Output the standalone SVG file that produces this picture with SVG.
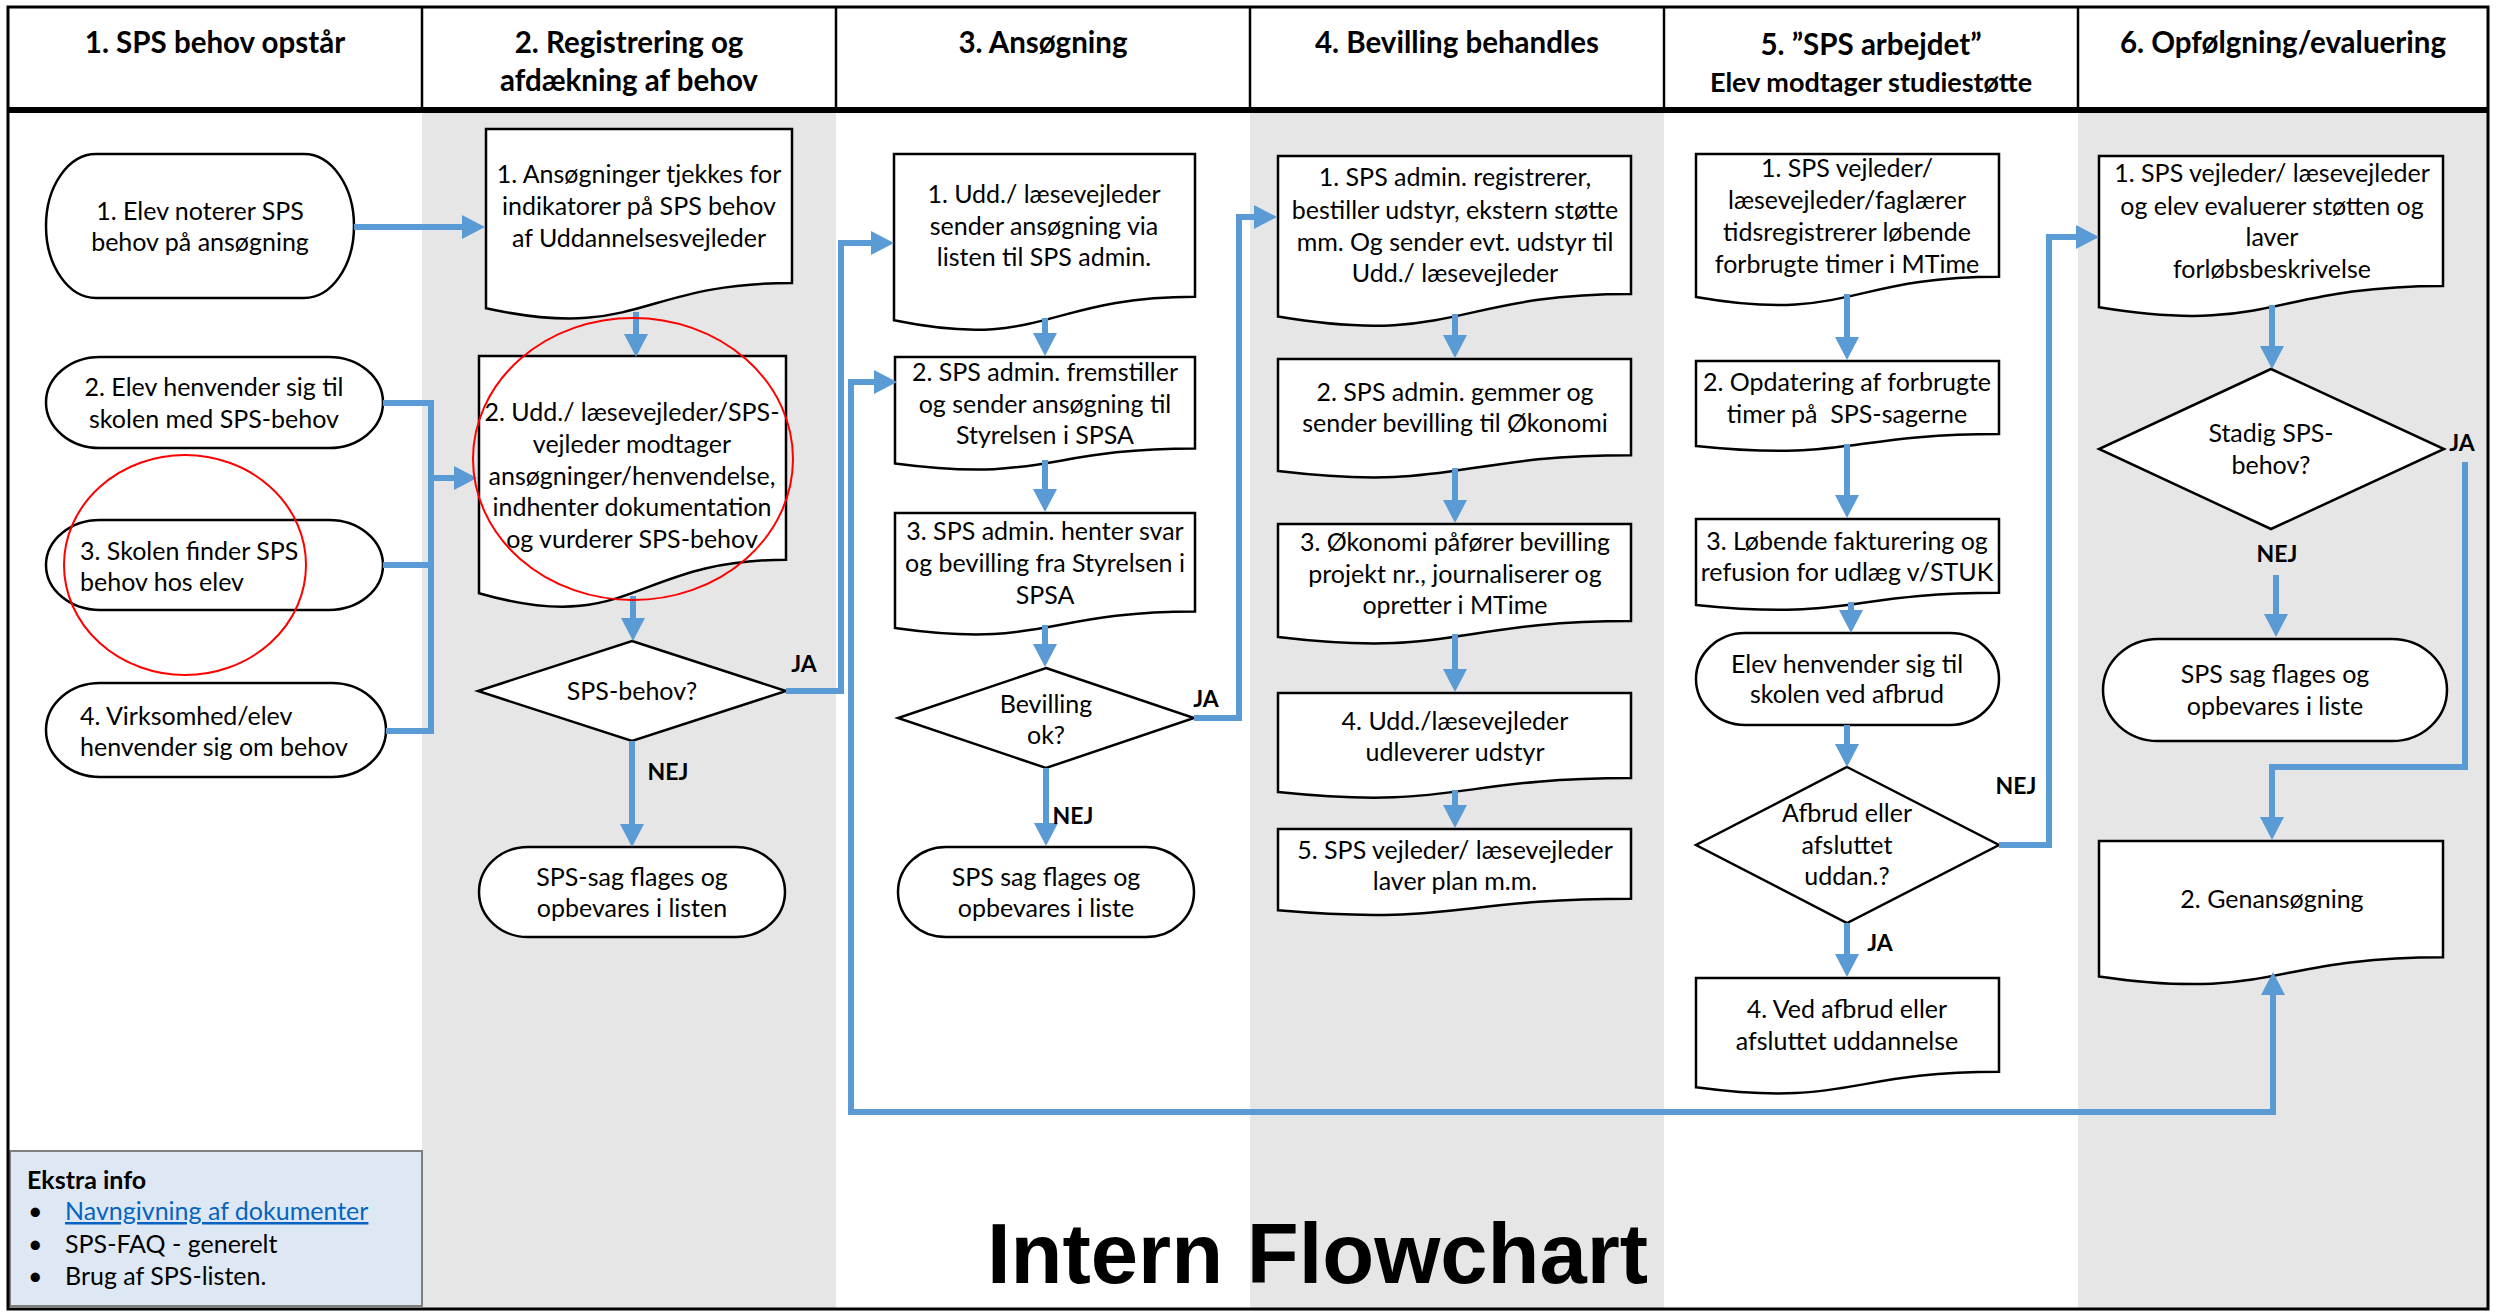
<svg xmlns="http://www.w3.org/2000/svg" width="2496" height="1312" viewBox="0 0 2496 1312">
<defs>
<style>
.bgw{fill:#ffffff}
.bgg{fill:#e6e6e6}
.shape{fill:#ffffff;stroke:#000000;stroke-width:2.5}
.t{font-family:Lato,'Open Sans',sans-serif;font-size:25px;fill:#000000;text-anchor:middle}
.tl{font-family:Lato,'Open Sans',sans-serif;font-size:25px;fill:#000000;text-anchor:start}
.h{font-family:Lato,'Open Sans',sans-serif;font-size:29.5px;font-weight:bold;fill:#000000;text-anchor:middle}
.h2{font-family:Lato,'Open Sans',sans-serif;font-size:27px;font-weight:bold;fill:#000000;text-anchor:middle}
.lb{font-family:Lato,'Open Sans',sans-serif;font-size:23px;font-weight:bold;fill:#000000;text-anchor:middle}
.con{fill:none;stroke:#5b9bd5;stroke-width:6;stroke-linejoin:miter}
.arr{marker-end:url(#ah)}
.red{fill:none;stroke:#ff0000;stroke-width:2}
.info{font-family:Lato,'Open Sans',sans-serif;font-size:25px;fill:#000000}
</style>
<marker id="ah" markerUnits="userSpaceOnUse" markerWidth="23" markerHeight="24" viewBox="0 0 23 24" refX="3" refY="12" orient="auto-start-reverse">
<path d="M0,0 L23,12 L0,24 Z" fill="#5b9bd5"/>
</marker>
</defs>

<g id="background">
<rect x="0" y="0" width="2496" height="1312" class="bgw"/>
<rect x="422" y="112" width="414" height="1196" class="bgg"/>
<rect x="1250" y="112" width="414" height="1196" class="bgg"/>
<rect x="2078" y="112" width="410" height="1196" class="bgg"/>
</g>

<g id="header">
<line x1="8" y1="110" x2="2488" y2="110" stroke="#000" stroke-width="6"/>
<g stroke="#000" stroke-width="2.5">
<line x1="422" y1="7" x2="422" y2="110"/>
<line x1="836" y1="7" x2="836" y2="110"/>
<line x1="1250" y1="7" x2="1250" y2="110"/>
<line x1="1664" y1="7" x2="1664" y2="110"/>
<line x1="2078" y1="7" x2="2078" y2="110"/>
</g>
<text class="h" x="215" y="53">1. SPS behov opstår</text>
<text class="h" x="629" y="53">2. Registrering og</text>
<text class="h" x="629" y="91">afdækning af behov</text>
<text class="h" x="1043" y="53">3. Ansøgning</text>
<text class="h" x="1457" y="53">4. Bevilling behandles</text>
<text class="h" x="1871" y="55">5. ”SPS arbejdet”</text>
<text class="h2" x="1871" y="92">Elev modtager studiestøtte</text>
<text class="h" x="2283" y="53">6. Opfølgning/evaluering</text>
</g>

<g id="n1-1">
<rect x="46" y="154" width="308" height="144" rx="50" ry="72" class="shape"/>
<text class="t" x="200" y="220">1. Elev noterer SPS</text>
<text class="t" x="200" y="251">behov på ansøgning</text>
</g>
<g id="n1-2">
<rect x="46" y="357" width="337" height="91" rx="54" ry="45.5" class="shape"/>
<text class="t" x="214" y="396">2. Elev henvender sig til</text>
<text class="t" x="214" y="428">skolen med SPS-behov</text>
</g>
<g id="n1-3">
<rect x="46" y="520" width="337" height="90" rx="54" ry="45" class="shape"/>
<text class="tl" x="80" y="560">3. Skolen finder SPS</text>
<text class="tl" x="80" y="591">behov hos elev</text>
</g>
<g id="n1-4">
<rect x="46" y="683" width="340" height="94" rx="54" ry="47" class="shape"/>
<text class="tl" x="80" y="725">4. Virksomhed/elev</text>
<text class="tl" x="80" y="756">henvender sig om behov</text>
</g>

<g id="n2-1">
<path d="M486,129 H792 V283 C639,283 639,341.6 486,308.3 Z" class="shape"/>
<text class="t" x="639" y="183">1. Ansøgninger tjekkes for</text>
<text class="t" x="639" y="215">indikatorer på SPS behov</text>
<text class="t" x="639" y="247">af Uddannelsesvejleder</text>
</g>
<g id="n2-2">
<path d="M479,356 H786 V559.7 C632.5,559.7 632.5,637.3 479,593.2 Z" class="shape"/>
<text class="t" x="632" y="421">2. Udd./ læsevejleder/SPS-</text>
<text class="t" x="632" y="453">vejleder modtager</text>
<text class="t" x="632" y="485">ansøgninger/henvendelse,</text>
<text class="t" x="632" y="516">indhenter dokumentation</text>
<text class="t" x="632" y="548">og vurderer SPS-behov</text>
</g>
<g id="n2-3">
<polygon points="632,641 786,691 632,741 478,691" class="shape"/>
<text class="t" x="632" y="700">SPS-behov?</text>
</g>
<g id="n2-4">
<rect x="479" y="847" width="306" height="90" rx="49" ry="45" class="shape"/>
<text class="t" x="632" y="886">SPS-sag flages og</text>
<text class="t" x="632" y="917">opbevares i listen</text>
</g>

<g id="n3-1">
<path d="M894,154 H1195 V296.8 C1044.5,296.8 1044.5,351.1 894,320.3 Z" class="shape"/>
<text class="t" x="1044" y="203">1. Udd./ læsevejleder</text>
<text class="t" x="1044" y="235">sender ansøgning via</text>
<text class="t" x="1044" y="266">listen til SPS admin.</text>
</g>
<g id="n3-2">
<path d="M895,357 H1195 V448.4 C1045,448.4 1045,483.3 895,463.5 Z" class="shape"/>
<text class="t" x="1045" y="381">2. SPS admin. fremstiller</text>
<text class="t" x="1045" y="413">og sender ansøgning til</text>
<text class="t" x="1045" y="444">Styrelsen i SPSA</text>
</g>
<g id="n3-3">
<path d="M895,513 H1195 V611.6 C1045,611.6 1045,649.2 895,627.9 Z" class="shape"/>
<text class="t" x="1045" y="540">3. SPS admin. henter svar</text>
<text class="t" x="1045" y="572">og bevilling fra Styrelsen i</text>
<text class="t" x="1045" y="604">SPSA</text>
</g>
<g id="n3-4">
<polygon points="1046,668 1194,718 1046,768 898,718" class="shape"/>
<text class="t" x="1046" y="713">Bevilling</text>
<text class="t" x="1046" y="744">ok?</text>
</g>
<g id="n3-5">
<rect x="898" y="847" width="296" height="90" rx="48" ry="45" class="shape"/>
<text class="t" x="1046" y="886">SPS sag flages og</text>
<text class="t" x="1046" y="917">opbevares i liste</text>
</g>

<g id="n4-1">
<path d="M1278,156 H1631 V293.9 C1454.5,293.9 1454.5,346.5 1278,316.6 Z" class="shape"/>
<text class="t" x="1455" y="186">1. SPS admin. registrerer,</text>
<text class="t" x="1455" y="219">bestiller udstyr, ekstern støtte</text>
<text class="t" x="1455" y="251">mm. Og sender evt. udstyr til</text>
<text class="t" x="1455" y="282">Udd./ læsevejleder</text>
</g>
<g id="n4-2">
<path d="M1278,359 H1631 V455.2 C1454.5,455.2 1454.5,491.9 1278,471.1 Z" class="shape"/>
<text class="t" x="1455" y="401">2. SPS admin. gemmer og</text>
<text class="t" x="1455" y="432">sender bevilling til Økonomi</text>
</g>
<g id="n4-3">
<path d="M1278,524 H1631 V621 C1454.5,621 1454.5,658 1278,637 Z" class="shape"/>
<text class="t" x="1455" y="551">3. Økonomi påfører bevilling</text>
<text class="t" x="1455" y="583">projekt nr., journaliserer og</text>
<text class="t" x="1455" y="614">opretter i MTime</text>
</g>
<g id="n4-4">
<path d="M1278,693 H1631 V778 C1454.5,778 1454.5,810.4 1278,792 Z" class="shape"/>
<text class="t" x="1455" y="730">4. Udd./læsevejleder</text>
<text class="t" x="1455" y="761">udleverer udstyr</text>
</g>
<g id="n4-5">
<path d="M1278,829 H1631 V898.8 C1454.5,898.8 1454.5,925.4 1278,910.3 Z" class="shape"/>
<text class="t" x="1455" y="859">5. SPS vejleder/ læsevejleder</text>
<text class="t" x="1455" y="890">laver plan m.m.</text>
</g>

<g id="n5-1">
<path d="M1696,154 H1999 V276.7 C1847.5,276.7 1847.5,323.4 1696,296.9 Z" class="shape"/>
<text class="t" x="1847" y="177">1. SPS vejleder/</text>
<text class="t" x="1847" y="209">læsevejleder/faglærer</text>
<text class="t" x="1847" y="241">tidsregistrerer løbende</text>
<text class="t" x="1847" y="273">forbrugte timer i MTime</text>
</g>
<g id="n5-2">
<path d="M1696,361 H1999 V434 C1847.5,434 1847.5,461.8 1696,446 Z" class="shape"/>
<text class="t" x="1847" y="391">2. Opdatering af forbrugte</text>
<text class="t" x="1847" y="423" xml:space="preserve">timer på  SPS-sagerne</text>
</g>
<g id="n5-3">
<path d="M1696,519 H1999 V592.8 C1847.5,592.8 1847.5,620.9 1696,604.9 Z" class="shape"/>
<text class="t" x="1847" y="550">3. Løbende fakturering og</text>
<text class="t" x="1847" y="581">refusion for udlæg v/STUK</text>
</g>
<g id="n5-4">
<rect x="1696" y="633" width="303" height="92" rx="49" ry="46" class="shape"/>
<text class="t" x="1847" y="673">Elev henvender sig til</text>
<text class="t" x="1847" y="703">skolen ved afbrud</text>
</g>
<g id="n5-5">
<polygon points="1847,767 1999,845 1847,923 1696,845" class="shape"/>
<text class="t" x="1847" y="822">Afbrud eller</text>
<text class="t" x="1847" y="854">afsluttet</text>
<text class="t" x="1847" y="885">uddan.?</text>
</g>
<g id="n5-6">
<path d="M1696,978 H1999 V1071.8 C1847.5,1071.8 1847.5,1107.6 1696,1087.3 Z" class="shape"/>
<text class="t" x="1847" y="1018">4. Ved afbrud eller</text>
<text class="t" x="1847" y="1050">afsluttet uddannelse</text>
</g>

<g id="n6-1">
<path d="M2099,156 H2443 V285.9 C2271,285.9 2271,335.4 2099,307.3 Z" class="shape"/>
<text class="t" x="2272" y="182">1. SPS vejleder/ læsevejleder</text>
<text class="t" x="2272" y="215">og elev evaluerer støtten og</text>
<text class="t" x="2272" y="246">laver</text>
<text class="t" x="2272" y="278">forløbsbeskrivelse</text>
</g>
<g id="n6-2">
<polygon points="2271,369 2444,449 2271,529 2099,449" class="shape"/>
<text class="t" x="2271" y="442">Stadig SPS-</text>
<text class="t" x="2271" y="474">behov?</text>
</g>
<g id="n6-3">
<rect x="2103" y="639" width="344" height="102" rx="55" ry="51" class="shape"/>
<text class="t" x="2275" y="683">SPS sag flages og</text>
<text class="t" x="2275" y="715">opbevares i liste</text>
</g>
<g id="n6-4">
<path d="M2099,841 H2443 V957.3 C2271,957.3 2271,1001.6 2099,976.4 Z" class="shape"/>
<text class="t" x="2272" y="908">2. Genansøgning</text>
</g>

<g id="connectors">
<path class="con arr" d="M354,227 H465"/>
<path class="con arr" d="M636,312 V337"/>
<path class="con" d="M383,403 H431 V731 H386 M383,565 H431"/>
<path class="con arr" d="M431,478 H457"/>
<path class="con arr" d="M633,596 V621"/>
<path class="con arr" d="M786,691 H841 V243 H874"/>
<path class="con arr" d="M632,741 V827"/>
<path class="con arr" d="M877,382 H851 V1112 H2273 V992" marker-start="url(#ah)"/>
<path class="con arr" d="M1045,318 V336"/>
<path class="con arr" d="M1045,460 V492"/>
<path class="con arr" d="M1045,625 V647"/>
<path class="con arr" d="M1194,718 H1239 V217 H1257"/>
<path class="con arr" d="M1046,768 V826"/>
<path class="con arr" d="M1455,314 V338"/>
<path class="con arr" d="M1455,468 V503"/>
<path class="con arr" d="M1455,634 V672"/>
<path class="con arr" d="M1455,790 V808"/>
<path class="con arr" d="M1847,294 V340"/>
<path class="con arr" d="M1847,444 V498"/>
<path class="con arr" d="M1851,602 V613"/>
<path class="con arr" d="M1847,725 V747"/>
<path class="con arr" d="M1847,923 V957"/>
<path class="con arr" d="M1999,845 H2049 V237 H2079"/>
<path class="con arr" d="M2272,305 V349"/>
<path class="con arr" d="M2276,575 V617"/>
<path class="con arr" d="M2465,462 V767 H2272 V820"/>
<text class="lb" x="804" y="672">JA</text>
<text class="lb" x="668" y="780">NEJ</text>
<text class="lb" x="1206" y="707">JA</text>
<text class="lb" x="1073" y="824">NEJ</text>
<text class="lb" x="2016" y="794">NEJ</text>
<text class="lb" x="1880" y="951">JA</text>
<text class="lb" x="2462" y="451">JA</text>
<text class="lb" x="2277" y="562">NEJ</text>
</g>

<g id="highlights">
<ellipse cx="633" cy="459" rx="160" ry="141" class="red"/>
<ellipse cx="185" cy="565" rx="121" ry="110" class="red"/>
</g>

<g id="extra-info">
<rect x="10" y="1151" width="412" height="155" fill="#dee8f4" stroke="#7f7f7f" stroke-width="2"/>
<text class="info" x="27" y="1189" font-weight="bold">Ekstra info</text>
<text class="info" x="28" y="1220">•</text>
<text class="info" x="65" y="1220" text-decoration="underline" style="fill:#0563c1">Navngivning af dokumenter</text>
<text class="info" x="28" y="1253">•</text>
<text class="info" x="65" y="1253">SPS-FAQ - generelt</text>
<text class="info" x="28" y="1285">•</text>
<text class="info" x="65" y="1285">Brug af SPS-listen.</text>
</g>

<g id="title">
<text x="987" y="1283" font-family="'Liberation Sans',Arial,sans-serif" font-size="85" font-weight="bold" fill="#000000">Intern Flowchart</text>
</g>

<rect id="frame" x="8" y="7" width="2480" height="1302" fill="none" stroke="#000" stroke-width="3"/>
</svg>
